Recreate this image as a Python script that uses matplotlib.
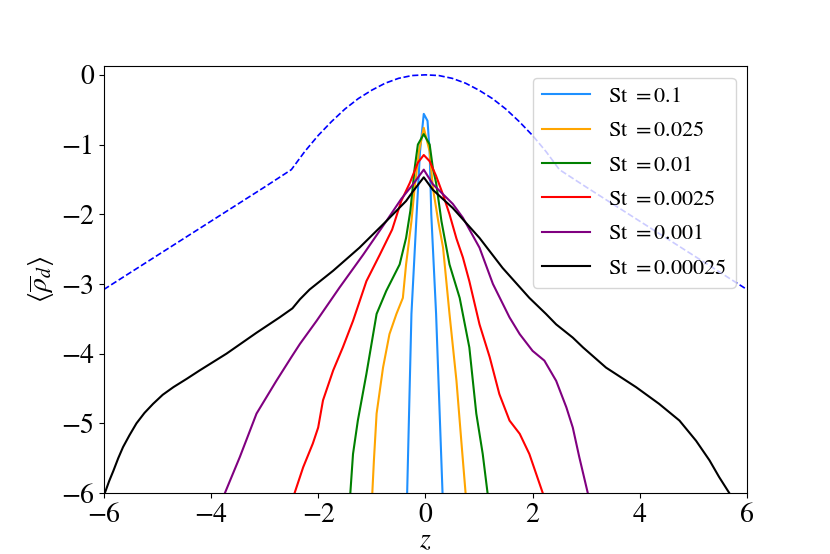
import matplotlib
matplotlib.use("Agg")
import matplotlib.pyplot as plt

plt.rcParams['font.family'] = 'STIXGeneral'
plt.rcParams['mathtext.fontset'] = 'stix'
plt.rcParams['font.size'] = 20

# perfil do gas (tracejado)
z_gas = [-6, -5, -4, -3, -2.5, -2.25, -2, -1.75, -1.5, -1.25, -1, -0.75, -0.5, -0.25, 0,
         0.25, 0.5, 0.75, 1, 1.25, 1.5, 1.75, 2, 2.25, 2.5, 3, 4, 5, 6]
rho_gas = [-3.08, -2.59, -2.10, -1.61, -1.36, -1.10, -0.87, -0.67, -0.49, -0.34, -0.22, -0.12, -0.05, -0.01, 0.0,
           -0.01, -0.05, -0.12, -0.22, -0.34, -0.49, -0.67, -0.87, -1.10, -1.36, -1.61, -2.10, -2.59, -3.08]

# St = 0.1
z_01 = [-0.34, -0.26, -0.17, -0.10, -0.03, 0.04, 0.08, 0.11, 0.20, 0.32]
rho_01 = [-6.0, -3.43, -2.1, -1.10, -0.56, -0.66, -1.10, -2.0, -3.43, -6.0]

# St = 0.025
z_025 = [-0.99, -0.96, -0.91, -0.79, -0.67, -0.54, -0.42, -0.36, -0.26, -0.20, -0.12, -0.03,
         0.08, 0.14, 0.24, 0.33, 0.45, 0.58, 0.67, 0.75]
rho_025 = [-6.0, -5.53, -4.86, -4.20, -3.72, -3.43, -3.20, -2.72, -2.10, -1.62, -1.10, -0.76,
           -1.10, -1.62, -2.10, -2.48, -3.43, -4.39, -5.25, -6.0]

# St = 0.01
z_001 = [-1.40, -1.35, -1.26, -1.10, -0.91, -0.73, -0.48, -0.36, -0.28, -0.20, -0.14, -0.03,
         0.08, 0.14, 0.20, 0.30, 0.45, 0.64, 0.82, 0.95, 1.07, 1.16]
rho_001 = [-6.0, -5.44, -4.96, -4.29, -3.43, -3.10, -2.72, -2.34, -1.95, -1.34, -1.0, -0.85,
           -1.0, -1.34, -1.55, -2.10, -2.72, -3.20, -3.91, -4.86, -5.44, -6.0]

# St = 0.0025
z_0025 = [-2.44, -2.28, -2.10, -2.0, -1.91, -1.72, -1.54, -1.35, -1.10, -0.85, -0.62, -0.45,
          -0.29, -0.14, -0.03, 0.08, 0.20, 0.33, 0.45, 0.58, 0.70, 0.82, 1.01, 1.20, 1.38,
          1.57, 1.76, 1.94, 2.19]
rho_0025 = [-6.0, -5.63, -5.29, -5.06, -4.67, -4.24, -3.91, -3.53, -2.96, -2.58, -2.22, -1.81,
            -1.55, -1.26, -1.15, -1.24, -1.45, -1.72, -2.0, -2.35, -2.62, -2.96, -3.58, -4.05, -4.58,
            -4.96, -5.15, -5.44, -6.0]

# St = 0.001
z_0001 = [-3.74, -3.46, -3.15, -2.78, -2.50, -2.34, -2.03, -1.60, -1.16, -0.73, -0.45, -0.23,
          -0.03, 0.14, 0.51, 0.70, 1.01, 1.26, 1.57, 1.76, 2.0, 2.22, 2.44, 2.63, 2.75,
          2.87, 3.03]
rho_0001 = [-6.0, -5.48, -4.86, -4.39, -4.05, -3.86, -3.53, -3.05, -2.58, -2.10, -1.78, -1.57,
            -1.36, -1.57, -1.85, -2.05, -2.48, -3.0, -3.48, -3.72, -3.96, -4.10, -4.39, -4.77, -5.06,
            -5.48, -6.0]

# St = 0.00025
z_00025 = [-5.98, -5.90, -5.82, -5.73, -5.64, -5.52, -5.39, -5.24, -5.08, -4.90, -4.70, -4.45,
           -4.21, -3.71, -3.15, -2.72, -2.48, -2.34, -2.16, -1.72, -1.23, -0.73, -0.36, -0.23,
           -0.03, 0.14, 0.51, 1.01, 1.44, 1.94, 2.25, 2.44, 2.75, 2.94, 3.37, 3.93, 4.36, 4.74,
           5.05, 5.30, 5.48, 5.67]
rho_00025 = [-6.0, -5.83, -5.68, -5.50, -5.34, -5.17, -5.0, -4.85, -4.72, -4.59, -4.48, -4.36,
             -4.24, -4.0, -3.70, -3.48, -3.35, -3.22, -3.08, -2.81, -2.48, -2.10, -1.81, -1.67,
             -1.47, -1.65, -1.91, -2.34, -2.77, -3.20, -3.43, -3.58, -3.77, -3.91, -4.20, -4.48,
             -4.72, -4.96, -5.25, -5.53, -5.77, -6.0]

rotulos = ['St $=$0.1', 'St $=$0.025', 'St $=$0.01', 'St $=$0.0025', 'St $=$0.001', 'St $=$0.00025']
cores = ['dodgerblue', 'orange', 'green', 'red', 'purple', 'black']
series = [(z_01, rho_01), (z_025, rho_025), (z_001, rho_001),
          (z_0025, rho_0025), (z_0001, rho_0001), (z_00025, rho_00025)]

fig, ax = plt.subplots(figsize=(8.3, 5.54), dpi=100)

for (z, rho), cor, rot in zip(series, cores, rotulos):
    ax.plot(z, rho, color=cor, lw=1.5, label=rot)

ax.plot(z_gas, rho_gas, 'b--', lw=1.2)

ax.set_xlim(-6, 6)
ax.set_ylim(-6, 0.12)
ax.set_xlabel(r'$z$', fontsize=20, labelpad=0)
ax.set_ylabel(r'$\langle \overline{\rho}_d \rangle$', fontsize=20)
ax.legend(loc='upper right', fontsize=16, labelspacing=0.62, handlelength=2.2)

fig.savefig('out.png')
